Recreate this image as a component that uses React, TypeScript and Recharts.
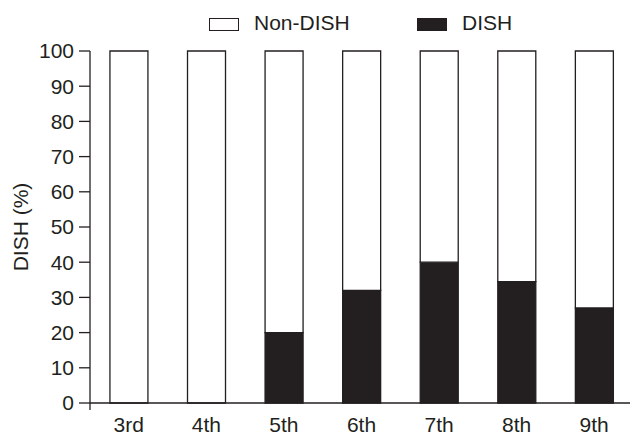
import { BarChart, Bar, XAxis, YAxis } from "recharts";

const grades = ["3rd", "4th", "5th", "6th", "7th", "8th", "9th"];
const dishPct = [0, 0, 20, 32, 40, 34.5, 27];
const nonDishPct = [100, 100, 80, 68, 60, 65.5, 73];
const yTicks = [0, 10, 20, 30, 40, 50, 60, 70, 80, 90, 100];

const INK = "#231f20";
const FONT = "'Liberation Sans', Arial, Helvetica, sans-serif";

const rows = grades.map((grade, i) => ({
  grade,
  dish: dishPct[i],
  nonDish: nonDishPct[i],
}));

function YTitle(props: any) {
  const { viewBox } = props;
  const cx = viewBox.x + 20;
  const cy = viewBox.y + viewBox.height / 2;
  return (
    <text
      x={cx}
      y={cy}
      transform={`rotate(-90, ${cx}, ${cy})`}
      textAnchor="middle"
      dominantBaseline="central"
      fill={INK}
      fontSize={21}
      fontFamily={FONT}
    >
      DISH (%)
    </text>
  );
}

function LegendKey({ label, fill, left, textLeft }: { label: string; fill: string; left: number; textLeft: number }) {
  return (
    <>
      <div
        style={{
          position: "absolute",
          left,
          top: 18,
          width: 28,
          height: 11,
          background: fill,
          border: `1.3px solid ${INK}`,
        }}
      />
      <div
        style={{
          position: "absolute",
          left: textLeft,
          top: 9,
          fontSize: 21,
          lineHeight: "28px",
          color: INK,
          fontFamily: FONT,
        }}
      >
        {label}
      </div>
    </>
  );
}

export default function App() {
  return (
    <div
      style={{
        position: "absolute",
        left: 0,
        top: 0,
        width: 630,
        height: 434,
        overflow: "hidden",
        background: "#fff",
      }}
    >
      <LegendKey label="Non-DISH" fill="#fff" left={209} textLeft={254} />
      <LegendKey label="DISH" fill={INK} left={417} textLeft={462} />
      <BarChart
        width={633}
        height={434}
        data={rows}
        margin={{ top: 51, right: 0, bottom: 0, left: 0 }}
        barCategoryGap="25.7%"
      >
        <XAxis
          dataKey="grade"
          height={31}
          tickLine={false}
          tickSize={0}
          tickMargin={14}
          axisLine={{ stroke: INK, strokeWidth: 1.3 }}
          tick={{ fill: INK, fontSize: 21, fontFamily: FONT }}
        />
        <YAxis
          width={90}
          domain={[0, 100]}
          ticks={yTicks}
          interval={0}
          tickSize={11}
          tickMargin={5}
          axisLine={{ stroke: INK, strokeWidth: 1.3 }}
          tickLine={{ stroke: INK, strokeWidth: 1.3 }}
          tick={{ fill: INK, fontSize: 21, fontFamily: FONT }}
          label={<YTitle />}
        />
        <Bar dataKey="dish" stackId="s" fill={INK} stroke={INK} strokeWidth={1.3} isAnimationActive={false} />
        <Bar dataKey="nonDish" stackId="s" fill="#fff" stroke={INK} strokeWidth={1.3} isAnimationActive={false} />
      </BarChart>
      <svg style={{ position: "absolute", left: 0, top: 0, pointerEvents: "none" }} width={630} height={434}>
        <line x1={90} y1={403} x2={90} y2={410} stroke={INK} strokeWidth={1.3} />
      </svg>
    </div>
  );
}
